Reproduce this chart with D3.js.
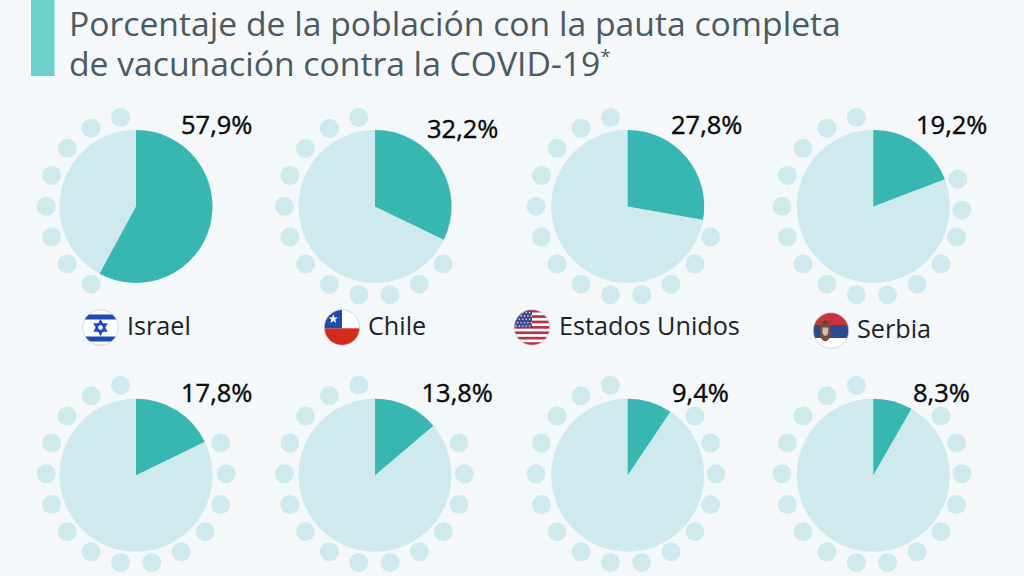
<!DOCTYPE html>
<html><head><meta charset="utf-8">
<script src="https://cdn.jsdelivr.net/npm/d3@7"></script>
<style>html,body{margin:0;padding:0;background:#f4f8fb;overflow:hidden}svg{display:block}text{font-family:"Open Sans",sans-serif}</style>
</head><body><svg id="c" width="1024" height="576"></svg>
<script>
const titleLines = ["Porcentaje de la población con la pauta completa", "de vacunación contra la COVID-19"];
const countries = ["Israel","Chile","Estados Unidos","Serbia"];
const shares = [57.9,32.2,27.8,19.2,17.8,13.8,9.4,8.3];
const shownDots = [8,12,13,15,15,15,16,16];
const dotCount = 18;

const W=1024,H=576;
const svg=d3.select("#c");
svg.append("rect").attr("width",W).attr("height",H).attr("fill","#f4f8fb");
svg.append("rect").attr("x",31).attr("y",0).attr("width",23.5).attr("height",76).attr("fill","#6dd0cb");
const title=svg.append("text").attr("fill","#4b5a60").attr("font-size",33.7);
titleLines.forEach((t,i)=>title.append("tspan").attr("x",69).attr("y",36+i*40).text(t));
title.append("tspan").attr("font-size",19).attr("dy",-13).text("*");

const colX=[136,375,627.7,873.3], rowY=[206.4,475.2];
const ringX=[136.2,374.4,626,872], ringY=[206.2,473.8];
const layout=[
 {lx:181,ly:134},{lx:427,ly:138},{lx:671,ly:134},{lx:916,ly:134},
 {lx:181,ly:402},{lx:421.5,ly:402},{lx:672,ly:402},{lx:913,ly:402}];
const R=76.5, ringR=90, dotR=9.5;
const angle=d3.scaleLinear().domain([0,100]).range([0,2*Math.PI]);
const arc=d3.arc().innerRadius(0).outerRadius(R);
const dotAngle=d3.scaleLinear().domain([0,dotCount]).range([Math.PI/180*10,Math.PI/180*370]);

shares.forEach((v,i)=>{
  const c=i%4,r=Math.floor(i/4);
  const g=svg.append("g").attr("transform",`translate(${colX[c]},${rowY[r]})`);
  g.append("circle").attr("r",R).attr("fill","#cfeaec");
  g.append("path").attr("d",arc({startAngle:0,endAngle:angle(v)})).attr("fill","#38b6b2");
  const first=dotCount-shownDots[i];
  const nudge=d=>(i===3&&d<first+2)?Math.PI/180*2.5:0;
  svg.append("g").attr("transform",`translate(${ringX[c]},${ringY[r]})`)
    .selectAll("circle").data(d3.range(first,dotCount)).join("circle")
    .attr("cx",d=>ringR*Math.sin(dotAngle(d)+nudge(d))).attr("cy",d=>-ringR*Math.cos(dotAngle(d)+nudge(d)))
    .attr("r",dotR).attr("fill","#cfeaec");
  svg.append("text").attr("x",layout[i].lx).attr("y",layout[i].ly).attr("font-size",25.5)
    .attr("fill","#0a0a0a").attr("stroke","#0a0a0a").attr("stroke-width",0.4)
    .text(v.toFixed(1).replace(".",",")+"%");
});

// flags
const flagDefs=[
 {key:"il",cx:100.5,cy:327.5,tx:127,ty:335,label:countries[0]},
 {key:"cl",cx:342,cy:327.5,tx:368,ty:335,label:countries[1]},
 {key:"us",cx:532,cy:327.5,tx:559,ty:335,label:countries[2]},
 {key:"rs",cx:831,cy:330.5,tx:857,ty:338,label:countries[3]}];
const fr=17.7;
const defs=svg.append("defs");
const star=(r,ri)=>d3.lineRadial().curve(d3.curveLinearClosed)(d3.range(10).map(k=>[k*Math.PI/5,k%2?ri:r]));
flagDefs.forEach(f=>{
  defs.append("clipPath").attr("id","clip-"+f.key).append("circle").attr("r",fr);
  const o=svg.append("g").attr("transform",`translate(${f.cx},${f.cy})`);
  const g=o.append("g").attr("clip-path",`url(#clip-${f.key})`);
  const band=(y,h,c,x=-fr,w=2*fr)=>g.append("rect").attr("x",x).attr("y",y).attr("width",w).attr("height",h).attr("fill",c);
  if(f.key==="il"){
    band(-fr,2*fr,"#ffffff"); band(-13,5,"#1f47b5"); band(9,5,"#1f47b5");
    const tri=s=>g.append("path").attr("d",`M0,${-6.4*s}L5.5,${3.2*s}L-5.5,${3.2*s}Z`).attr("fill","none").attr("stroke","#1f47b5").attr("stroke-width",2);
    tri(1);tri(-1);
  }
  if(f.key==="cl"){
    band(-fr,fr+.8,"#ffffff"); band(.8,fr,"#d52b1e"); band(-fr,fr+.8,"#1f4aa8",-fr,fr);
    g.append("path").attr("d",star(5,2)).attr("transform","translate(-8.7,-8.5)").attr("fill","#fff");
  }
  if(f.key==="us"){
    band(-fr,2*fr,"#ffffff");
    d3.range(7).forEach(k=>band(-fr+k*5.4,2.7,"#b8344a"));
    band(-fr,fr,"#3f4a86",-fr,fr);
    d3.range(5).forEach(a=>d3.range(5).forEach(b=>g.append("circle").attr("cx",-16+b*3.4+(a%2)*1.7).attr("cy",-15+a*3.4).attr("r",.8).attr("fill","#e6e8f2")));
  }
  if(f.key==="rs"){
    band(-fr,12.2,"#c6363c"); band(-5.5,13,"#2b4b8f"); band(7.5,12,"#ffffff");
    g.append("path").attr("d","M-11,-7L-0.5,-7L-0.5,5Q-1,9 -5.7,11Q-10.5,9 -11,5Z").attr("fill","#7a4a3c");
    g.append("path").attr("d","M-8.6,-3L-2.8,-3L-2.8,2Q-3,4.5 -5.7,5.5Q-8.4,4.5 -8.6,2Z").attr("fill","#cdbdb4");
    g.append("path").attr("d","M-9,-7Q-5.7,-13.5 -2.5,-7Z").attr("fill","#5e4030");
  }
  o.append("circle").attr("r",fr).attr("fill","none").attr("stroke","#b9bcc6").attr("stroke-width",.6);
  svg.append("text").attr("x",f.tx).attr("y",f.ty).attr("font-size",25.2).attr("fill","#1c2226").text(f.label);
});
</script></body></html>
